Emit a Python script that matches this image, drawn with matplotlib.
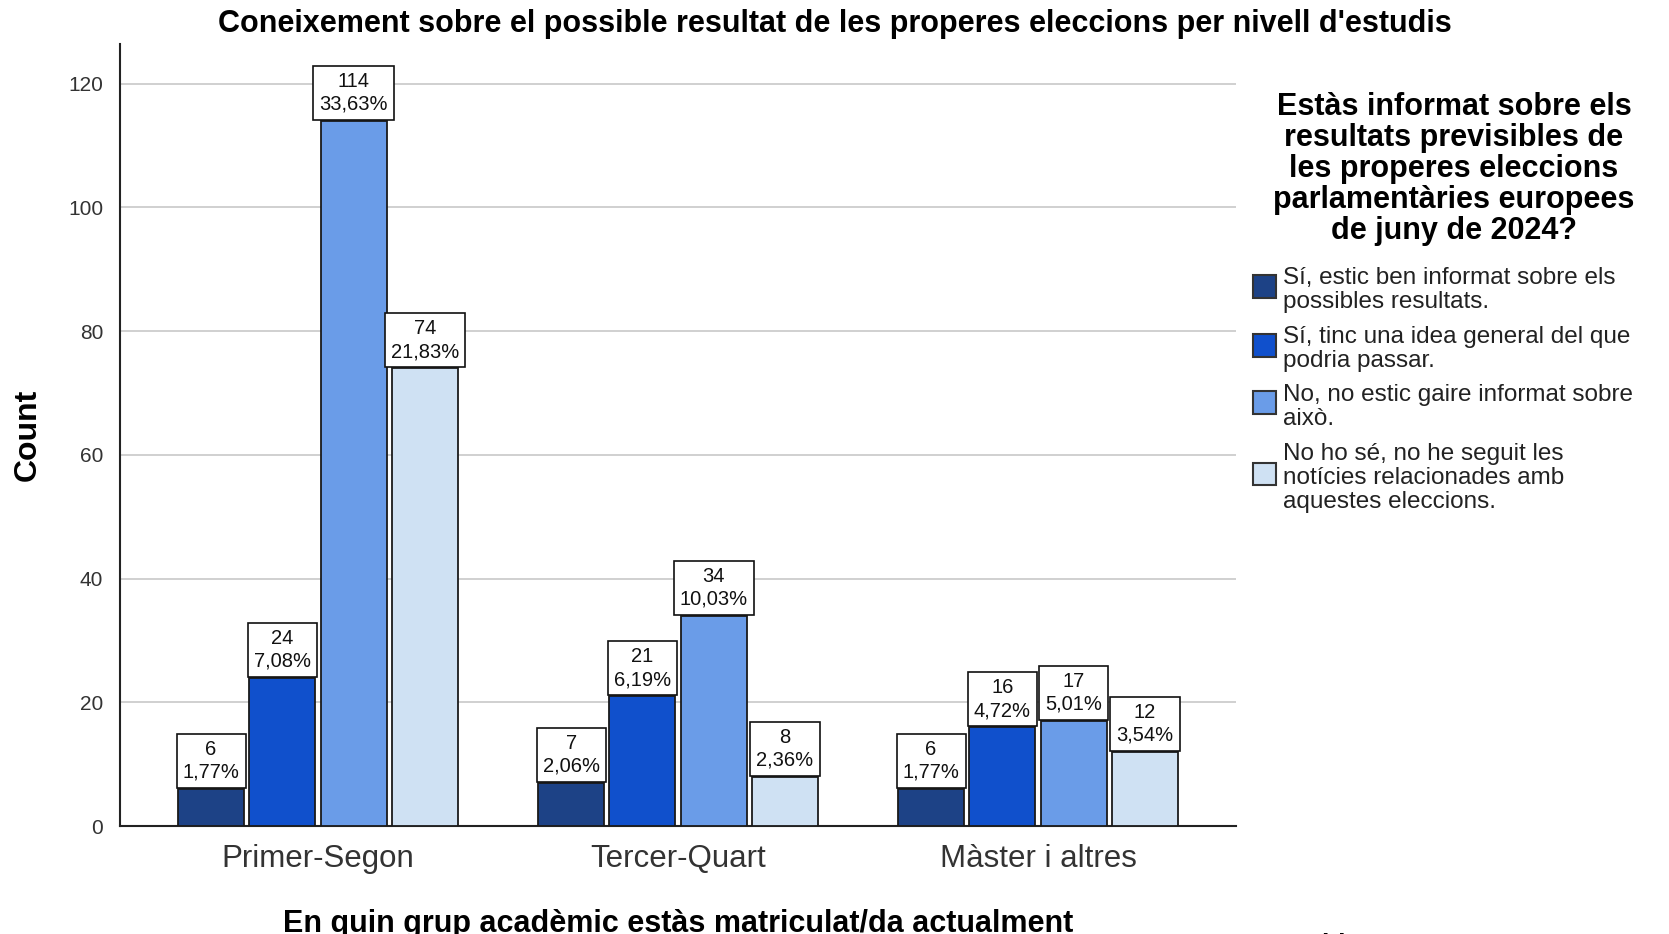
import matplotlib.pyplot as plt
from matplotlib.patches import Rectangle
import numpy as np

plt.rcParams['font.family'] = ['Liberation Sans', 'DejaVu Sans']

groups = ['Primer-Segon', 'Tercer-Quart', 'Màster i altres']
series = ['Sí, estic ben informat sobre els\npossibles resultats.',
          'Sí, tinc una idea general del que\npodria passar.',
          'No, no estic gaire informat sobre\naixò.',
          'No ho sé, no he seguit les\nnotícies relacionades amb\naquestes eleccions.']
counts = [[6, 7, 6],
          [24, 21, 16],
          [114, 34, 17],
          [74, 8, 12]]
pcts = [['1,77%', '2,06%', '1,77%'],
        ['7,08%', '6,19%', '4,72%'],
        ['33,63%', '10,03%', '5,01%'],
        ['21,83%', '2,36%', '3,54%']]
colors = ['#1d4286', '#1050cc', '#6a9ce8', '#cfe1f3']

fig = plt.figure(figsize=(16.69, 9.34), dpi=100)
ax = fig.add_axes([120/1669, 1-826/934, (1236-120)/1669, (826-44)/934])

x = np.arange(len(groups))
step = 0.198
width = 0.183
for i in range(len(series)):
    off = (i - 1.5) * step
    ax.bar(x + off, counts[i], width, color=colors[i], edgecolor='#1a1a1a',
           linewidth=1.3, zorder=3)
    for j in range(len(groups)):
        ax.annotate('%d\n%s' % (counts[i][j], pcts[i][j]), (x[j] + off, counts[i][j]),
                    xytext=(0, 5), textcoords='offset points', ha='center', va='bottom',
                    fontsize=14.5, color='#111111', linespacing=1.25, zorder=4,
                    bbox=dict(boxstyle='square,pad=0.3', fc='white', ec='#111111', lw=1.2))

ax.set_xlim(-0.55, 2.55)
ax.set_ylim(0, 126.4)
ax.set_yticks(range(0, 121, 20))
ax.yaxis.grid(True, color='#c8c8c8', linewidth=1.2, zorder=0)
ax.set_axisbelow(True)
ax.set_xticks(x)
ax.set_xticklabels(groups, fontsize=22.5, color='#333333')
ax.tick_params(axis='both', length=0)
ax.tick_params(axis='y', labelsize=15, labelcolor='#333333', pad=12)
ax.tick_params(axis='x', pad=13)
for s in ['top', 'right']:
    ax.spines[s].set_visible(False)
for s in ['left', 'bottom']:
    ax.spines[s].set_linewidth(1.5)
    ax.spines[s].set_color('#222222')

ax.set_ylabel('Count', fontsize=23, fontweight='bold', labelpad=18)
ax.set_xlabel('En quin grup acadèmic estàs matriculat/da actualment', fontsize=22,
              fontweight='bold', labelpad=25)

fig.text(0.5, 1-24/934, "Coneixement sobre el possible resultat de les properes eleccions per nivell d'estudis",
         ha='center', va='center', fontsize=22, fontweight='bold')

# legend
fig.text(1454/1669, 1-92/934,
         'Estàs informat sobre els\nresultats previsibles de\nles properes eleccions\nparlamentàries europees\nde juny de 2024?',
         ha='center', va='top', multialignment='center', fontsize=22, fontweight='bold',
         linespacing=1.04)
ycent = [286, 345, 403, 474]
for i in range(len(series)):
    yc = 1 - ycent[i]/934
    fig.add_artist(Rectangle((1253/1669, yc - 11.5/934), 23/1669, 23/934,
                             transform=fig.transFigure, fc=colors[i], ec='#333333', lw=1.5))
    fig.text(1283/1669, yc - 4/934, series[i], ha='left', va='center', fontsize=17.5,
             color='#222222', linespacing=1.13)

fig.text(1303/1669, 1-933/934, 'Chi-Square Tests', ha='left', va='top', fontsize=19,
         fontweight='bold')

fig.savefig('out.png', dpi=100)
